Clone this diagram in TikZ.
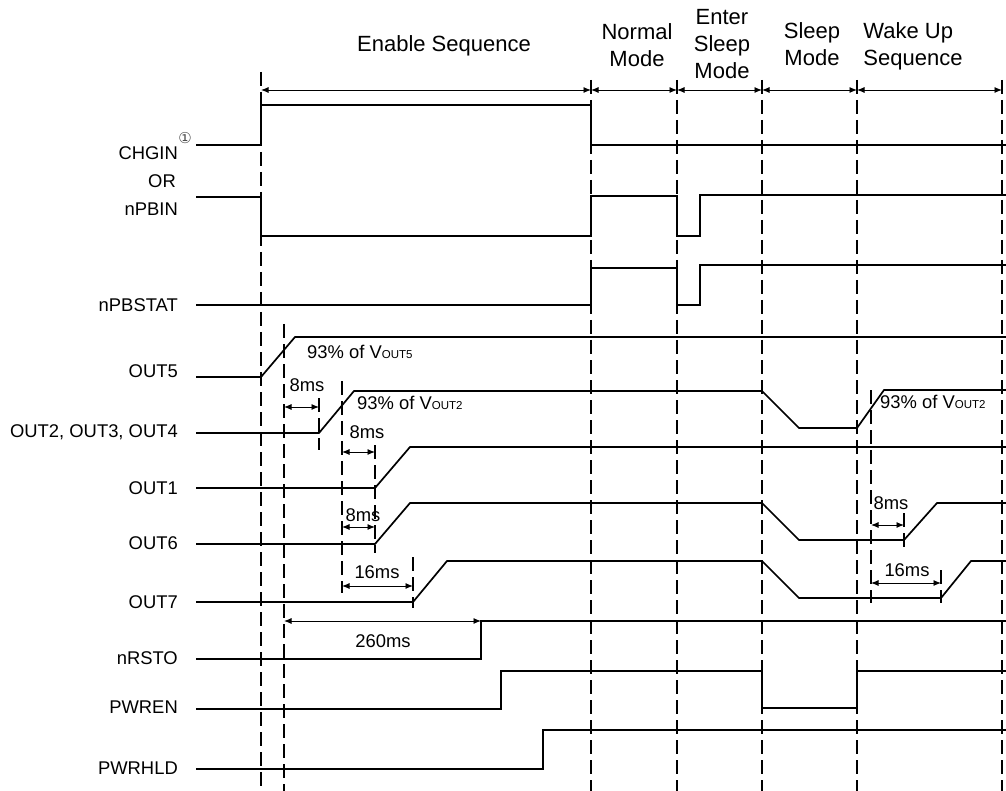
\documentclass[tikz,border=0pt]{standalone}
\usepackage{fontspec}
\setmainfont{Liberation Sans}
\newfontfamily\circfont{DejaVu Sans}
\usetikzlibrary{arrows.meta}
\newcommand{\voutsub}[1]{V{\fontsize{11.5}{12}\selectfont #1}}

\begin{document}
\begin{tikzpicture}[
    x=1pt, y=-1pt,
    sig/.style={line width=1.7pt},
    tline/.style={line width=1.5pt, dash pattern=on 14pt off 6pt},
    dim/.style={{Latex[length=7.5pt,width=6pt]}-{Latex[length=7.5pt,width=6pt]}, line width=0.9pt},
    lbl/.style={anchor=base east, inner sep=0pt, font=\fontsize{18.4}{22}\selectfont},
    val/.style={inner sep=0pt, font=\fontsize{18.4}{22}\selectfont},
    hdr/.style={align=center, inner sep=0pt, font=\fontsize{22}{27}\selectfont}
]
\useasboundingbox (0,0) rectangle (1006,791);

% Phase headers (anchored on the last line)
\node[hdr, anchor=base] (henable) at (444,51.7) {Enable Sequence};
\node[hdr, anchor=base] (hnormal) at (637,66.7) {Normal\\Mode};
\node[hdr, anchor=base] (henter) at (722,78.3) {Enter\\Sleep\\Mode};
\node[hdr, anchor=base] (hsleep) at (812,65.5) {Sleep\\Mode};
\node[hdr, anchor=base, align=left] (hwake) at (913,65.5) {Wake Up\\Sequence};

% Phase boundaries
\draw[tline] (261,72) -- (261,791);
\foreach \x in {591,677,762,857,1002}
    \draw[tline] (\x,80) -- (\x,791);
\draw[tline] (284,324) -- (284,791);
\draw[tline] (319,398) -- (319,450);
\draw[tline] (342,381) -- (342,593);
\draw[tline] (375,445) -- (375,553);
\draw[tline] (413,557) -- (413,608);
\draw[tline] (871,390) -- (871,603);
\draw[tline] (904,513) -- (904,550);
\draw[tline] (941,570) -- (941,603);

\coordinate (b0) at (261,90);
\coordinate (b1) at (591,90);
\coordinate (b2) at (677,90);
\coordinate (b3) at (762,90);
\coordinate (b4) at (857,90);
\coordinate (b5) at (1002,90);
\foreach \a/\b in {b0/b1,b1/b2,b2/b3,b3/b4,b4/b5}
    \draw[dim] (\a) -- (\b);

% Signal names
\node[lbl] (lchgin) at (178,160) {CHGIN};
\node[font=\circfont\fontsize{15}{16}\selectfont, text=black!70, inner sep=0pt] (lnote) at (185,138) {①};
\node[lbl] (lor) at (176,187.5) {OR};
\node[lbl] (lnpbin) at (178,215.5) {nPBIN};
\node[lbl] (lnpbstat) at (178,311.5) {nPBSTAT};
\node[lbl] (lout5) at (178,377.5) {OUT5};
\node[lbl] (lout2) at (178,437) {OUT2, OUT3, OUT4};
\node[lbl] (lout1) at (178,494.5) {OUT1};
\node[lbl] (lout6) at (178,549.5) {OUT6};
\node[lbl] (lout7) at (178,608.5) {OUT7};
\node[lbl] (lnrsto) at (178,664.5) {nRSTO};
\node[lbl] (lpwren) at (178,713.5) {PWREN};
\node[lbl] (lpwrhld) at (178,774) {PWRHLD};

% Waveforms
\draw[sig] (196,145) -- (261,145) -- (261,105) -- (591,105) -- (591,145) -- (1006,145);
\draw[sig] (196,197) -- (261,197) -- (261,236) -- (591,236) -- (591,196) -- (677,196)
    -- (677,236) -- (700,236) -- (700,195) -- (1006,195);
\draw[sig] (196,305) -- (591,305) -- (591,268) -- (677,268) -- (677,305) -- (700,305)
    -- (700,265) -- (1006,265);
\draw[sig] (196,377) -- (261,377) -- (295,337) -- (1006,337);
\draw[sig] (196,433) -- (319,433) -- (354,391) -- (762,391) -- (799,428) -- (857,428)
    -- (884,390) -- (1006,390);
\draw[sig] (196,488) -- (375,488) -- (410,447) -- (1006,447);
\draw[sig] (196,544) -- (375,544) -- (410,503) -- (762,503) -- (799,540) -- (904,540)
    -- (937,503) -- (1006,503);
\draw[sig] (196,602) -- (413,602) -- (447,561) -- (762,561) -- (799,598) -- (941,598)
    -- (971,561) -- (1006,561);
\draw[sig] (196,659) -- (481,659) -- (481,621) -- (1006,621);
\draw[sig] (196,709) -- (501,709) -- (501,671) -- (762,671) -- (762,708) -- (857,708)
    -- (857,671) -- (1006,671);
\draw[sig] (196,769) -- (543,769) -- (543,730) -- (1006,730);

% Threshold notes
\node[val, anchor=base west] (th5) at (307,358) {93\% of \voutsub{OUT5}};
\node[val, anchor=base west] (th2) at (357,409) {93\% of \voutsub{OUT2}};
\node[val, anchor=base west] (th2w) at (880,408) {93\% of \voutsub{OUT2}};

% Delays
\coordinate (d1a) at (284,407);  \coordinate (d1b) at (319,407);
\coordinate (d2a) at (342,452);  \coordinate (d2b) at (375,452);
\coordinate (d3a) at (342,527);  \coordinate (d3b) at (375,527);
\coordinate (d4a) at (342,586);  \coordinate (d4b) at (413,586);
\coordinate (d5a) at (284,621);  \coordinate (d5b) at (481,621);
\coordinate (d6a) at (871,525);  \coordinate (d6b) at (904,525);
\coordinate (d7a) at (871,583);  \coordinate (d7b) at (941,583);
\foreach \a/\b in {d1a/d1b,d2a/d2b,d3a/d3b,d4a/d4b,d5a/d5b,d6a/d6b,d7a/d7b}
    \draw[dim] (\a) -- (\b);

\node[val] (t1) at (307,385) {8ms};
\node[val] (t2) at (367,432) {8ms};
\node[val] (t3) at (363,515) {8ms};
\node[val] (t4) at (377,572) {16ms};
\node[val] (t5) at (383,641) {260ms};
\node[val] (t6) at (891,503) {8ms};
\node[val] (t7) at (907,570) {16ms};
\end{tikzpicture}
\end{document}
